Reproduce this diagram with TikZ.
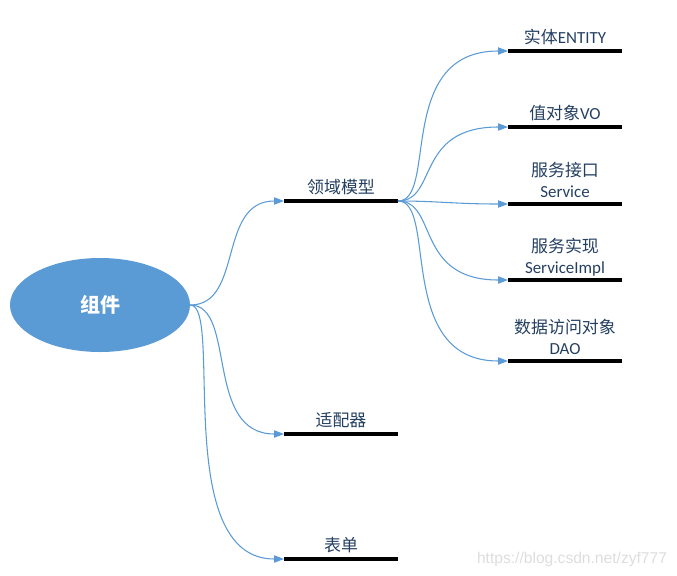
\documentclass[tikz,border=0pt]{standalone}
\usepackage{fontspec}
\setmainfont{Carlito}
\newfontfamily\cjk{Noto Sans CJK SC}
\newfontfamily\wmfont{Liberation Sans}
\usetikzlibrary{shapes.geometric,arrows.meta}
\definecolor{hubblue}{HTML}{5B9BD5}
\definecolor{linkblue}{HTML}{5B9BD5}
\definecolor{textnavy}{HTML}{243F60}
\definecolor{wmgray}{HTML}{DDDDDD}
\tikzstyle{hub}=[ellipse,fill=hubblue,draw=none,minimum width=135pt,minimum height=70.5pt,inner sep=0pt,text=white,font=\fontsize{15}{18}\selectfont\cjk\bfseries]
\tikzstyle{bar}=[draw,line width=2.6pt]
\tikzstyle{link}=[draw=linkblue,line width=0.8pt,-{Triangle[length=7.5pt,width=5.5pt]},out=0,in=180]
\tikzstyle{lbl}=[anchor=base,inner sep=0pt,text=textnavy,font=\fontsize{12.7}{15.75}\selectfont,align=center]

\begin{document}
\begin{tikzpicture}[x=0.75pt,y=-0.75pt]
    \useasboundingbox (0,0) rectangle (677,575);
    \node[hub] (hub) at (100,305) {组件};

    % first level
    \path coordinate (dmL) at (284,201) coordinate (dmR) at (398,201)
          coordinate (adL) at (284,434) coordinate (adR) at (398,434)
          coordinate (fmL) at (284,559) coordinate (fmR) at (398,559);
    \draw[bar] (dmL) -- (dmR);
    \draw[bar] (adL) -- (adR);
    \draw[bar] (fmL) -- (fmR);
    \node[lbl] (dmT) at (341,193) {\cjk 领域模型};
    \node[lbl] (adT) at (341,426) {\cjk 适配器};
    \node[lbl] (fmT) at (341,551) {\cjk 表单};

    % second level
    \path coordinate (enL) at (508,51)  coordinate (enR) at (622,51)
          coordinate (voL) at (508,127) coordinate (voR) at (622,127)
          coordinate (svL) at (508,204) coordinate (svR) at (622,204)
          coordinate (siL) at (508,280) coordinate (siR) at (622,280)
          coordinate (daL) at (508,361) coordinate (daR) at (622,361);
    \draw[bar] (enL) -- (enR);
    \draw[bar] (voL) -- (voR);
    \draw[bar] (svL) -- (svR);
    \draw[bar] (siL) -- (siR);
    \draw[bar] (daL) -- (daR);
    \node[lbl] (enT) at (565,43)  {{\cjk 实体}ENTITY};
    \node[lbl] (voT) at (565,119) {{\cjk 值对象}VO};
    \node[lbl] (svT) at (565,197) {{\cjk 服务接口}\\Service};
    \node[lbl] (siT) at (565,273) {{\cjk 服务实现}\\ServiceImpl};
    \node[lbl] (daT) at (565,354) {{\cjk 数据访问对象}\\DAO};

    % connectors
    \draw[link,out distance=40,in distance=50] (hub.east) to (dmL);
    \draw[link,out distance=35,in distance=60] (hub.east) to (adL);
    \draw[link,out distance=25,in distance=85] (hub.east) to (fmL);
    \draw[link,out distance=30,in distance=85] (dmR) to (enL);
    \draw[link,out distance=30,in distance=70] (dmR) to (voL);
    \draw[link,out distance=30,in distance=40] (dmR) to (svL);
    \draw[link,out distance=30,in distance=70] (dmR) to (siL);
    \draw[link,out distance=30,in distance=85] (dmR) to (daL);

    \node[anchor=base,inner sep=0pt,text=wmgray,font=\wmfont\fontsize{11.7}{14}\selectfont] (wm) at (572,563) {https://blog.csdn.net/zyf777};
\end{tikzpicture}
\end{document}
